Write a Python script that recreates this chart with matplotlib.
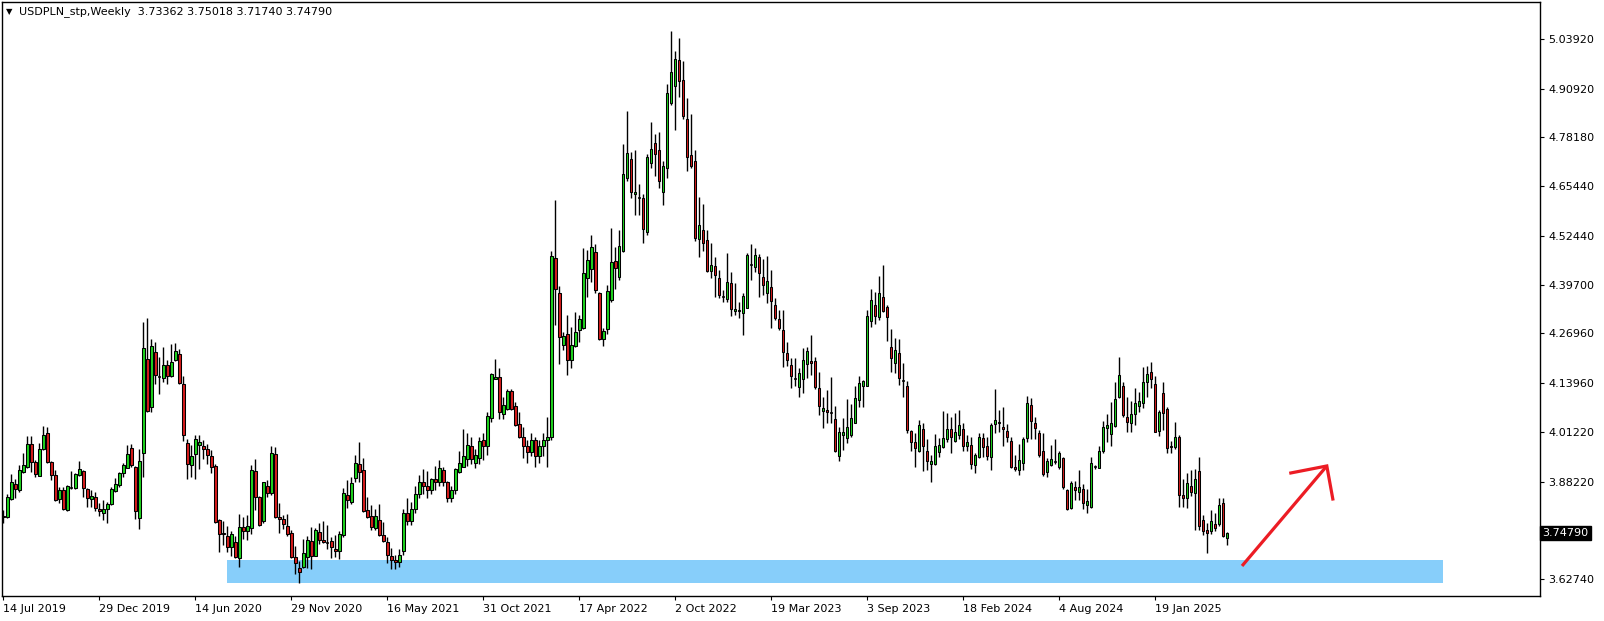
import matplotlib
matplotlib.use("Agg")
import matplotlib.pyplot as plt
from matplotlib.patches import Rectangle
from matplotlib.transforms import blended_transform_factory

# weekly USDPLN candles, 14 Jul 2019 .. 25 May 2025
opens = [3.792, 3.789, 3.837, 3.875, 3.860, 3.907, 3.921, 3.981, 3.933, 3.898,
         3.968, 4.008, 3.933, 3.899, 3.836, 3.860, 3.807, 3.867, 3.865, 3.900,
         3.910, 3.862, 3.836, 3.841, 3.811, 3.800, 3.810, 3.824, 3.858, 3.873,
         3.904, 3.919, 3.969, 3.920, 3.786, 3.958, 4.204, 4.076, 4.220, 4.155,
         4.152, 4.186, 4.157, 4.199, 4.216, 4.137, 3.982, 3.925, 3.954, 3.979,
         3.976, 3.968, 3.949, 3.924, 3.781, 3.748, 3.739, 3.711, 3.724, 3.682,
         3.763, 3.754, 3.762, 3.910, 3.841, 3.778, 3.872, 3.852, 3.954, 3.789,
         3.785, 3.765, 3.747, 3.684, 3.656, 3.660, 3.686, 3.727, 3.689, 3.750,
         3.729, 3.723, 3.726, 3.706, 3.701, 3.742, 3.846, 3.830, 3.891, 3.928,
         3.913, 3.807, 3.792, 3.762, 3.782, 3.743, 3.724, 3.688, 3.677, 3.672,
         3.700, 3.800, 3.780, 3.810, 3.850, 3.880, 3.870, 3.860, 3.890, 3.880,
         3.913, 3.880, 3.840, 3.860, 3.908, 3.921, 3.942, 3.975, 3.930, 3.945,
         3.991, 3.974, 4.048, 4.150, 4.156, 4.059, 4.071, 4.118, 4.080, 4.033,
         4.000, 3.976, 3.960, 3.990, 3.950, 3.975, 3.990, 4.000, 4.466, 4.375,
         4.239, 4.267, 4.200, 4.238, 4.278, 4.285, 4.414, 4.437, 4.483, 4.375,
         4.254, 4.280, 4.358, 4.459, 4.418, 4.485, 4.675, 4.725, 4.633, 4.624,
         4.623, 4.534, 4.714, 4.767, 4.748, 4.639, 4.701, 4.873, 4.917, 4.984,
         4.932, 4.830, 4.736, 4.720, 4.516, 4.540, 4.514, 4.434, 4.446, 4.414,
         4.366, 4.359, 4.401, 4.327, 4.330, 4.322, 4.337, 4.449, 4.444, 4.469,
         4.417, 4.376, 4.390, 4.344, 4.307, 4.279, 4.218, 4.187, 4.150, 4.129,
         4.150, 4.189, 4.198, 4.198, 4.127, 4.067, 4.070, 4.061, 4.046, 3.948,
         4.004, 3.997, 4.004, 4.036, 4.096, 4.131, 4.131, 4.303, 4.344, 4.313,
         4.364, 4.338, 4.233, 4.192, 4.218, 4.146, 4.131, 4.014, 3.986, 3.963,
         4.019, 3.962, 3.927, 3.927, 3.960, 3.972, 3.993, 4.021, 3.989, 4.004,
         4.020, 3.976, 3.978, 3.926, 3.947, 3.995, 3.975, 3.946, 4.032, 4.039,
         4.024, 4.015, 3.988, 3.920, 3.913, 3.930, 3.995, 4.082, 4.036, 4.010,
         3.962, 3.907, 3.926, 3.933, 3.921, 3.945, 3.860, 3.812, 3.867, 3.856,
         3.863, 3.821, 3.817, 3.922, 3.919, 3.961, 4.022, 4.006, 4.028, 4.104,
         4.132, 4.052, 4.036, 4.058, 4.080, 4.087, 4.143, 4.168, 4.137, 4.015,
         4.113, 4.072, 3.975, 3.973, 4.000, 3.846, 3.839, 3.871, 3.853, 3.911,
         3.782, 3.756, 3.754, 3.771, 3.771, 3.826, 3.73362]
highs = [3.808, 3.849, 3.902, 3.888, 3.926, 3.956, 4.002, 4.001, 3.939, 3.982,
         4.028, 4.026, 3.937, 3.913, 3.867, 3.867, 3.873, 3.910, 3.904, 3.936,
         3.913, 3.865, 3.860, 3.856, 3.825, 3.834, 3.830, 3.867, 3.891, 3.908,
         3.930, 3.978, 3.981, 3.923, 3.967, 4.300, 4.309, 4.254, 4.248, 4.209,
         4.233, 4.200, 4.241, 4.245, 4.228, 4.157, 3.993, 3.978, 4.005, 4.003,
         3.991, 3.981, 3.965, 3.928, 3.784, 3.780, 3.766, 3.752, 3.739, 3.798,
         3.789, 3.795, 3.926, 3.941, 3.845, 3.882, 3.886, 3.975, 3.972, 3.826,
         3.795, 3.798, 3.756, 3.714, 3.675, 3.732, 3.740, 3.763, 3.762, 3.773,
         3.778, 3.768, 3.738, 3.743, 3.753, 3.865, 3.886, 3.895, 3.952, 3.985,
         3.943, 3.843, 3.821, 3.810, 3.824, 3.777, 3.738, 3.708, 3.690, 3.705,
         3.810, 3.840, 3.830, 3.870, 3.900, 3.914, 3.911, 3.892, 3.923, 3.939,
         3.920, 3.885, 3.870, 3.919, 3.963, 4.020, 4.010, 3.998, 3.967, 3.998,
         4.010, 4.063, 4.167, 4.203, 4.180, 4.103, 4.124, 4.124, 4.091, 4.063,
         4.024, 3.990, 4.010, 4.000, 3.990, 4.010, 4.050, 4.485, 4.618, 4.394,
         4.273, 4.318, 4.286, 4.325, 4.318, 4.492, 4.488, 4.527, 4.503, 4.379,
         4.283, 4.395, 4.544, 4.495, 4.540, 4.764, 4.851, 4.743, 4.749, 4.659,
         4.633, 4.738, 4.821, 4.790, 4.795, 4.719, 4.921, 5.060, 5.008, 5.041,
         4.982, 4.884, 4.842, 4.749, 4.627, 4.608, 4.540, 4.507, 4.469, 4.436,
         4.383, 4.479, 4.430, 4.401, 4.353, 4.375, 4.479, 4.503, 4.494, 4.477,
         4.463, 4.473, 4.436, 4.363, 4.331, 4.331, 4.246, 4.205, 4.205, 4.178,
         4.231, 4.235, 4.266, 4.209, 4.169, 4.104, 4.122, 4.155, 4.080, 4.024,
         4.048, 4.098, 4.085, 4.132, 4.157, 4.148, 4.331, 4.386, 4.379, 4.420,
         4.449, 4.344, 4.281, 4.258, 4.254, 4.192, 4.144, 4.017, 4.010, 4.043,
         4.035, 3.993, 3.952, 4.007, 3.995, 4.067, 4.061, 4.052, 4.062, 4.069,
         4.035, 4.004, 4.000, 3.956, 4.010, 4.010, 4.000, 4.036, 4.123, 4.069,
         4.076, 4.032, 4.000, 3.952, 3.980, 4.000, 4.106, 4.100, 4.052, 4.017,
         4.008, 3.943, 3.978, 3.994, 3.962, 3.947, 3.863, 3.884, 3.884, 3.913,
         3.875, 3.862, 3.946, 3.926, 3.975, 4.041, 4.059, 4.091, 4.143, 4.209,
         4.143, 4.104, 4.093, 4.126, 4.117, 4.183, 4.185, 4.196, 4.157, 4.070,
         4.142, 4.076, 3.988, 4.037, 4.003, 3.888, 3.904, 3.913, 3.914, 3.947,
         3.795, 3.773, 3.808, 3.799, 3.839, 3.839, 3.75018]
lows = [3.773, 3.786, 3.834, 3.840, 3.856, 3.904, 3.917, 3.908, 3.895, 3.897,
        3.965, 3.930, 3.886, 3.832, 3.825, 3.808, 3.806, 3.864, 3.862, 3.897,
        3.843, 3.817, 3.815, 3.806, 3.793, 3.782, 3.773, 3.821, 3.856, 3.869,
        3.893, 3.917, 3.921, 3.784, 3.758, 3.895, 4.065, 4.065, 4.137, 4.110,
        4.143, 4.137, 4.156, 4.197, 4.137, 3.989, 3.888, 3.893, 3.889, 3.914,
        3.942, 3.928, 3.904, 3.775, 3.699, 3.717, 3.699, 3.688, 3.682, 3.658,
        3.732, 3.730, 3.746, 3.808, 3.766, 3.773, 3.843, 3.847, 3.786, 3.749,
        3.758, 3.741, 3.682, 3.640, 3.616, 3.657, 3.657, 3.654, 3.688, 3.718,
        3.721, 3.706, 3.683, 3.686, 3.681, 3.738, 3.812, 3.824, 3.882, 3.880,
        3.802, 3.786, 3.756, 3.756, 3.740, 3.725, 3.670, 3.655, 3.655, 3.660,
        3.690, 3.770, 3.770, 3.800, 3.840, 3.850, 3.840, 3.850, 3.860, 3.870,
        3.870, 3.830, 3.830, 3.850, 3.904, 3.921, 3.923, 3.928, 3.919, 3.928,
        3.939, 3.952, 4.039, 4.150, 4.047, 4.046, 4.070, 4.070, 4.028, 3.997,
        3.943, 3.930, 3.950, 3.920, 3.930, 3.950, 3.920, 3.990, 4.292, 4.190,
        4.226, 4.160, 4.180, 4.233, 4.246, 4.281, 4.366, 4.405, 4.375, 4.253,
        4.238, 4.267, 4.351, 4.385, 4.409, 4.483, 4.668, 4.623, 4.578, 4.579,
        4.507, 4.527, 4.703, 4.682, 4.651, 4.604, 4.677, 4.867, 4.801, 4.888,
        4.830, 4.695, 4.701, 4.511, 4.470, 4.484, 4.431, 4.414, 4.366, 4.362,
        4.353, 4.353, 4.314, 4.318, 4.311, 4.266, 4.335, 4.409, 4.429, 4.366,
        4.370, 4.350, 4.283, 4.305, 4.279, 4.183, 4.185, 4.126, 4.132, 4.104,
        4.115, 4.152, 4.161, 4.124, 4.057, 4.022, 4.035, 4.035, 3.960, 3.937,
        3.965, 3.984, 4.000, 4.035, 4.078, 4.078, 4.131, 4.287, 4.294, 4.305,
        4.325, 4.251, 4.170, 4.167, 4.135, 4.104, 4.010, 3.961, 3.921, 3.960,
        3.911, 3.913, 3.882, 3.926, 3.946, 3.969, 3.987, 3.956, 3.987, 3.993,
        3.961, 3.963, 3.914, 3.906, 3.943, 3.947, 3.940, 3.913, 4.008, 4.013,
        3.975, 3.987, 3.917, 3.911, 3.900, 3.913, 3.987, 3.993, 3.993, 3.947,
        3.898, 3.893, 3.924, 3.927, 3.914, 3.862, 3.808, 3.811, 3.833, 3.834,
        3.810, 3.799, 3.814, 3.915, 3.917, 3.958, 3.987, 3.974, 4.026, 4.100,
        4.052, 4.011, 4.013, 4.030, 4.065, 4.074, 4.104, 4.126, 4.011, 4.002,
        4.017, 3.956, 3.956, 3.968, 3.817, 3.817, 3.812, 3.845, 3.756, 3.756,
        3.743, 3.695, 3.744, 3.754, 3.765, 3.737, 3.71740]
closes = [3.790, 3.843, 3.880, 3.862, 3.912, 3.926, 3.981, 3.934, 3.902, 3.967,
          4.003, 3.934, 3.899, 3.833, 3.860, 3.810, 3.870, 3.866, 3.902, 3.914,
          3.865, 3.840, 3.844, 3.814, 3.805, 3.811, 3.824, 3.863, 3.875, 3.904,
          3.925, 3.954, 3.926, 3.806, 3.935, 4.231, 4.066, 4.237, 4.160, 4.154,
          4.186, 4.157, 4.195, 4.224, 4.139, 4.004, 3.928, 3.949, 3.994, 3.986,
          3.967, 3.953, 3.920, 3.777, 3.745, 3.745, 3.712, 3.745, 3.685, 3.763,
          3.754, 3.765, 3.912, 3.843, 3.770, 3.880, 3.852, 3.956, 3.791, 3.785,
          3.771, 3.745, 3.686, 3.669, 3.645, 3.695, 3.729, 3.689, 3.756, 3.730,
          3.724, 3.723, 3.710, 3.702, 3.744, 3.852, 3.833, 3.878, 3.932, 3.907,
          3.806, 3.791, 3.763, 3.792, 3.743, 3.727, 3.691, 3.677, 3.672, 3.690,
          3.800, 3.780, 3.810, 3.850, 3.880, 3.870, 3.860, 3.890, 3.880, 3.917,
          3.880, 3.840, 3.860, 3.915, 3.930, 3.949, 3.977, 3.941, 3.951, 3.989,
          3.974, 4.054, 4.164, 4.156, 4.063, 4.083, 4.118, 4.071, 4.030, 4.000,
          3.976, 3.960, 3.990, 3.950, 3.975, 3.990, 4.000, 4.471, 4.385, 4.261,
          4.262, 4.200, 4.240, 4.273, 4.307, 4.427, 4.462, 4.495, 4.382, 4.255,
          4.275, 4.380, 4.456, 4.440, 4.497, 4.685, 4.740, 4.638, 4.638, 4.623,
          4.542, 4.732, 4.751, 4.738, 4.669, 4.707, 4.897, 4.952, 4.987, 4.930,
          4.839, 4.732, 4.706, 4.518, 4.553, 4.507, 4.433, 4.449, 4.422, 4.369,
          4.365, 4.403, 4.333, 4.333, 4.327, 4.368, 4.475, 4.448, 4.475, 4.427,
          4.396, 4.407, 4.355, 4.311, 4.285, 4.222, 4.199, 4.157, 4.149, 4.165,
          4.200, 4.224, 4.192, 4.129, 4.081, 4.074, 4.064, 4.061, 3.961, 4.012,
          4.011, 4.026, 4.049, 4.102, 4.141, 4.145, 4.315, 4.357, 4.316, 4.376,
          4.327, 4.313, 4.206, 4.226, 4.154, 4.145, 4.017, 3.987, 3.971, 4.030,
          3.976, 3.936, 3.936, 3.975, 3.978, 3.995, 4.021, 3.999, 4.013, 4.030,
          3.976, 3.986, 3.928, 3.952, 3.998, 3.972, 3.950, 4.030, 4.042, 4.035,
          4.019, 3.998, 3.920, 3.914, 3.939, 3.993, 4.089, 4.041, 4.023, 3.952,
          3.901, 3.936, 3.941, 3.932, 3.956, 3.867, 3.810, 3.879, 3.860, 3.867,
          3.826, 3.832, 3.930, 3.921, 3.962, 4.026, 4.030, 4.035, 4.098, 4.161,
          4.056, 4.039, 4.059, 4.087, 4.093, 4.142, 4.163, 4.150, 4.013, 4.063,
          4.061, 3.969, 3.972, 4.000, 3.846, 3.840, 3.878, 3.856, 3.888, 3.765,
          3.754, 3.747, 3.779, 3.760, 3.821, 3.741, 3.74790]

date_labels = ["14 Jul 2019", "29 Dec 2019", "14 Jun 2020", "29 Nov 2020",
               "16 May 2021", "31 Oct 2021", "17 Apr 2022", "2 Oct 2022",
               "19 Mar 2023", "3 Sep 2023", "18 Feb 2024", "4 Aug 2024",
               "19 Jan 2025"]
label_bars = [0, 24, 48, 72, 96, 120, 144, 168, 192, 216, 240, 264, 288]
price_ticks = [5.0392, 4.9092, 4.7818, 4.6544, 4.5244, 4.3970, 4.2696,
               4.1396, 4.0122, 3.8822, 3.6274]

# support zone and arrow (bar index / price)
zone_x = (55.9, 359.9)
zone_y = (3.6172, 3.6773)
arrow_pts = [(321.9, 3.9048), (330.9, 3.9231), (332.4, 3.8368)]
arrow_start = (309.7, 3.6617)

W, H = 1604, 621
fig = plt.figure(figsize=(W / 100, H / 100), dpi=100)
ax = fig.add_axes([2 / W, (H - 596) / H, 1538 / W, 594 / H])

bull = '#1ed21e'
bear = '#d41c1c'

ax.add_patch(Rectangle((zone_x[0], zone_y[0]), zone_x[1] - zone_x[0],
                       zone_y[1] - zone_y[0], facecolor='#87cefa',
                       edgecolor='none', zorder=1))

xs = list(range(len(closes)))
ax.vlines(xs, lows, highs, color='black', linewidth=1.0, zorder=2)
for i in xs:
    o, c = opens[i], closes[i]
    lo, hi = min(o, c), max(o, c)
    if hi - lo < 0.0015:
        ax.hlines((o + c) / 2, i - 0.4, i + 0.4, color='black', linewidth=1.1, zorder=3)
        continue
    ax.bar(i, hi - lo, bottom=lo, width=0.62, color=bull if c >= o else bear,
           edgecolor='black', linewidth=0.75, zorder=3)

# arrow drawn by hand like in the terminal
red = '#ec1c24'
ax.plot([arrow_start[0], arrow_pts[1][0]], [arrow_start[1], arrow_pts[1][1]],
        color=red, linewidth=2.3, solid_capstyle='butt', zorder=4)
ax.plot([arrow_pts[0][0], arrow_pts[1][0], arrow_pts[2][0]],
        [arrow_pts[0][1], arrow_pts[1][1], arrow_pts[2][1]],
        color=red, linewidth=2.3, solid_joinstyle='miter', zorder=4)

ax.set_xlim(-0.325, 384.2)
ax.set_ylim(3.5832, 5.1359)

ax.yaxis.tick_right()
ax.set_yticks(price_ticks)
ax.set_yticklabels([f"{p:.5f}" for p in price_ticks])
ax.tick_params(axis='y', length=3, width=0.8, pad=3, labelsize=8, colors='black')
ax.set_xticks(label_bars)
ax.set_xticklabels(date_labels, ha='left')
ax.tick_params(axis='x', length=3, width=0.8, pad=3, labelsize=8, colors='black')
for s in ax.spines.values():
    s.set_linewidth(1.0)
    s.set_color('black')

# current price marker
tr = blended_transform_factory(ax.transAxes, ax.transData)
ax.text(1.0015, closes[-1], "3.74790", transform=tr, color='white', fontsize=8,
        va='center', ha='left',
        bbox=dict(boxstyle='square,pad=0.2', facecolor='black', edgecolor='black'))

fig.text(6 / W, 1 - 12 / H, "\u25bc", fontsize=6, va='center', ha='left')
fig.text(19 / W, 1 - 12 / H, "USDPLN_stp,Weekly  3.73362 3.75018 3.71740 3.74790",
         fontsize=8, va='center', ha='left')

fig.savefig("out.png", dpi=100, facecolor='white')
